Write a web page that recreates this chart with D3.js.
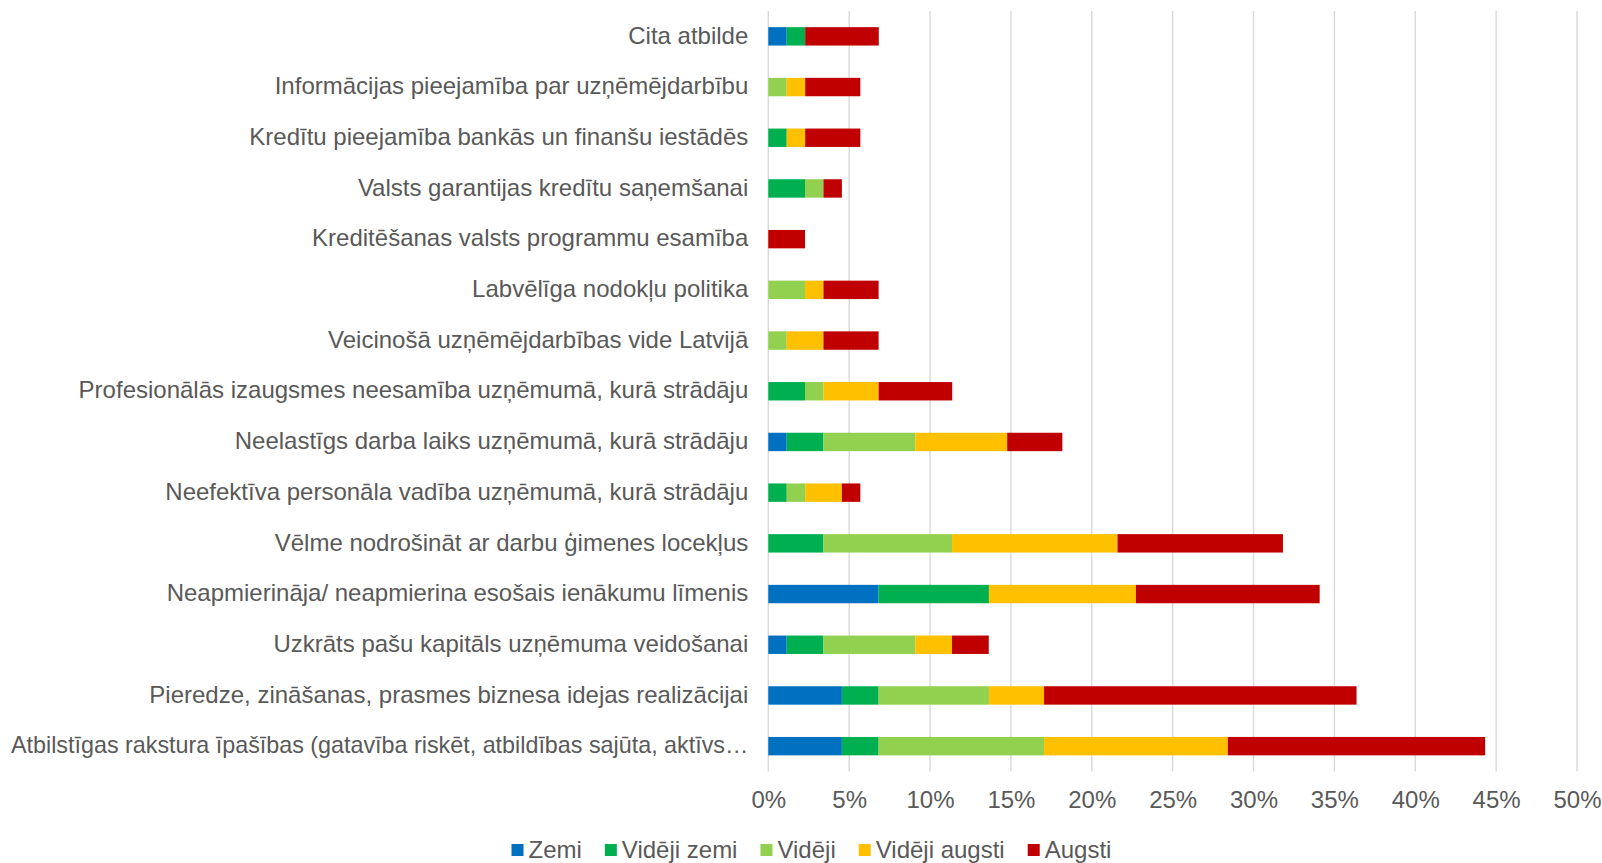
<!DOCTYPE html>
<html>
<head>
  <script src="https://d3js.org/d3.v7.min.js"></script>
  <style>
    body {
      margin: 0;
      overflow: hidden;
      background: #ffffff;
    }
    svg text {
      font-family: "Liberation Sans", Arial, sans-serif;
      fill: #595959;
    }
  </style>
  <title>Chart</title>
</head>
<body>
  <script>
    // Kategorijas (no augšas uz leju)
    const categories = [
      "Cita atbilde",
      "Informācijas pieejamība par uzņēmējdarbību",
      "Kredītu pieejamība bankās un finanšu iestādēs",
      "Valsts garantijas kredītu saņemšanai",
      "Kreditēšanas valsts programmu esamība",
      "Labvēlīga nodokļu politika",
      "Veicinošā uzņēmējdarbības vide Latvijā",
      "Profesionālās izaugsmes neesamība uzņēmumā, kurā strādāju",
      "Neelastīgs darba laiks uzņēmumā, kurā strādāju",
      "Neefektīva personāla vadība uzņēmumā, kurā strādāju",
      "Vēlme nodrošināt ar darbu ģimenes locekļus",
      "Neapmierināja/ neapmierina esošais ienākumu līmenis",
      "Uzkrāts pašu kapitāls uzņēmuma veidošanai",
      "Pieredze, zināšanas, prasmes biznesa idejas realizācijai",
      "Atbilstīgas rakstura īpašības (gatavība riskēt, atbildības sajūta, aktīvs…"
    ];

    // Sērijas (%)
    const zemi         = [1.14, 0, 0, 0, 0, 0, 0, 0, 1.14, 0, 0, 6.82, 1.14, 4.55, 4.55];
    const videjiZemi   = [1.14, 0, 1.14, 2.27, 0, 0, 0, 2.27, 2.27, 1.14, 3.41, 6.82, 2.27, 2.27, 2.27];
    const videji       = [0, 1.14, 0, 1.14, 0, 2.27, 1.14, 1.14, 5.68, 1.14, 7.95, 0, 5.68, 6.82, 10.23];
    const videjiAugsti = [0, 1.14, 1.14, 0, 0, 1.14, 2.27, 3.41, 5.68, 2.27, 10.23, 9.09, 2.27, 3.41, 11.36];
    const augsti       = [4.55, 3.41, 3.41, 1.14, 2.27, 3.41, 3.41, 4.55, 3.41, 1.14, 10.23, 11.36, 2.27, 19.32, 15.91];

    const seriesNames = ["Zemi", "Vidēji zemi", "Vidēji", "Vidēji augsti", "Augsti"];
    const seriesColors = ["#0070C0", "#00B050", "#92D050", "#FFC000", "#C00000"];
    const xTicks = [0, 5, 10, 15, 20, 25, 30, 35, 40, 45, 50];

    const seriesValues = [zemi, videjiZemi, videji, videjiAugsti, augsti];

    // tabula priekš d3.stack
    const rows = categories.map(function (c, i) {
      const row = { cat: c };
      seriesNames.forEach(function (s, j) {
        row[s] = seriesValues[j][i];
      });
      return row;
    });

    const width = 1602;
    const height = 863;
    const plotLeft = 768.3;
    const plotRight = 1577;
    const plotTop = 11;
    const plotBottom = 771.5;

    const svg = d3.select("body")
      .append("svg")
      .attr("width", width)
      .attr("height", height);

    const xScale = d3.scaleLinear()
      .domain([0, 50])
      .range([plotLeft, plotRight]);

    const yScale = d3.scaleBand()
      .domain(categories)
      .range([plotTop, plotBottom])
      .paddingInner(0.637)
      .paddingOuter(0.3185);

    // Režģa līnijas
    svg.append("g")
      .selectAll("line")
      .data(xTicks)
      .enter()
      .append("line")
      .attr("x1", function (d) { return xScale(d); })
      .attr("x2", function (d) { return xScale(d); })
      .attr("y1", plotTop)
      .attr("y2", plotBottom)
      .attr("stroke", "#d9d9d9")
      .attr("stroke-width", 1.4);

    // Stabiņi
    const stacked = d3.stack().keys(seriesNames)(rows);

    svg.append("g")
      .selectAll("g")
      .data(stacked)
      .enter()
      .append("g")
      .attr("fill", function (d, i) { return seriesColors[i]; })
      .selectAll("rect")
      .data(function (d) { return d; })
      .enter()
      .append("rect")
      .attr("x", function (d) { return xScale(d[0]); })
      .attr("y", function (d) { return yScale(d.data.cat); })
      .attr("width", function (d) { return xScale(d[1]) - xScale(d[0]); })
      .attr("height", yScale.bandwidth());

    // X ass
    const xAxis = svg.append("g")
      .attr("transform", "translate(0," + plotBottom + ")")
      .call(d3.axisBottom(xScale)
        .tickValues(xTicks)
        .tickFormat(function (d) { return d + "%"; })
        .tickSize(0)
        .tickPadding(19.5));
    xAxis.select(".domain").remove();
    xAxis.selectAll("text")
      .style("font-size", "24px")
      .attr("fill", "#595959");

    // Y ass (kategorijas)
    const yAxis = svg.append("g")
      .attr("transform", "translate(" + plotLeft + ",0)")
      .call(d3.axisLeft(yScale).tickSize(0).tickPadding(20));
    yAxis.select(".domain").remove();
    const maxLabel = plotLeft - 20 - 11;
    yAxis.selectAll("text")
      .style("font-size", "24px")
      .attr("fill", "#595959")
      .attr("dy", "0.3em")
      .each(function () {
        // garais teksts lai nav nogriezts
        if (this.getComputedTextLength() > maxLabel) {
          d3.select(this)
            .attr("textLength", maxLabel)
            .attr("lengthAdjust", "spacingAndGlyphs");
        }
      });

    // Leģenda
    const legend = svg.append("g")
      .attr("transform", "translate(511.5,850)");
    let lx = 0;
    seriesNames.forEach(function (name, i) {
      const item = legend.append("g").attr("transform", "translate(" + lx + ",0)");
      item.append("rect")
        .attr("x", 0)
        .attr("y", -6)
        .attr("width", 12)
        .attr("height", 12)
        .attr("fill", seriesColors[i]);
      const t = item.append("text")
        .attr("x", 17)
        .attr("y", 0)
        .attr("dy", "0.35em")
        .style("font-size", "24px")
        .text(name);
      lx += 17 + t.node().getComputedTextLength() + 23;
    });
  </script>
</body>
</html>
